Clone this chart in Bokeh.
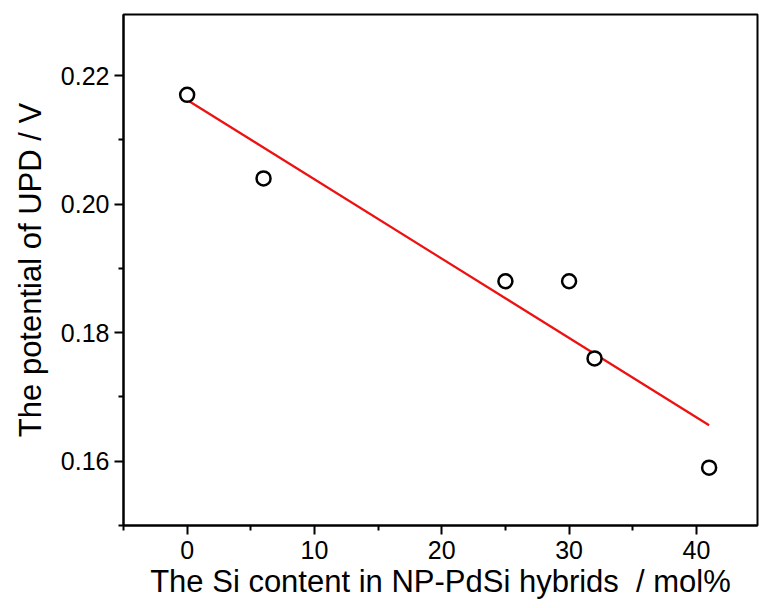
from bokeh.plotting import figure
from bokeh.models import FixedTicker, NumeralTickFormatter, Range1d
from bokeh.embed import file_html
from bokeh.resources import INLINE

si_content = [0, 6, 25, 30, 32, 41]
upd_potential = [0.217, 0.204, 0.188, 0.188, 0.176, 0.159]
fit_x = [0, 41]
fit_y = [0.2162, 0.1656]
x_ticks = [0, 10, 20, 30, 40]
x_minor = [-5, 5, 15, 25, 35, 45]
y_ticks = [0.16, 0.18, 0.20, 0.22]
y_minor = [0.15, 0.17, 0.19, 0.21, 0.23]

FONT = "Liberation Sans"

p = figure(width=759, height=608, output_backend="svg", toolbar_location=None,
           x_range=Range1d(-5, 44.8), y_range=Range1d(0.15, 0.2295),
           min_border_left=123, min_border_right=2, min_border_top=14, min_border_bottom=83)
p.xgrid.visible = False
p.ygrid.visible = False
p.outline_line_color = "black"
p.outline_line_width = 2
p.background_fill_color = "white"
p.border_fill_color = "white"

p.line(fit_x, fit_y, line_color="#ee1111", line_width=2.2)
p.scatter(si_content, upd_potential, marker="circle", size=14, fill_color="white",
          line_color="black", line_width=2.5)

p.xaxis.ticker = FixedTicker(ticks=x_ticks, minor_ticks=x_minor)
p.yaxis.ticker = FixedTicker(ticks=y_ticks, minor_ticks=y_minor)
p.yaxis.formatter = NumeralTickFormatter(format="0.00")

for ax in (p.xaxis[0], p.yaxis[0]):
    ax.axis_line_width = 2
    ax.axis_line_color = "black"
    ax.major_tick_line_width = 2
    ax.minor_tick_line_width = 2
    ax.major_tick_out = 9
    ax.major_tick_in = 0
    ax.minor_tick_out = 5
    ax.minor_tick_in = 0
    ax.major_label_text_font = FONT
    ax.major_label_text_font_size = "25px"
    ax.major_label_text_color = "black"
    ax.axis_label_text_font = FONT
    ax.axis_label_text_font_size = "31px"
    ax.axis_label_text_font_style = "normal"
    ax.axis_label_text_color = "black"

p.xaxis.axis_label = "The Si content in NP-PdSi hybrids\u00a0 / mol%"
p.yaxis.axis_label = "The potential of UPD / V"
p.xaxis.major_label_standoff = 6
p.yaxis.major_label_standoff = 5
p.xaxis.axis_label_standoff = 2
p.yaxis.axis_label_standoff = 10

open("out.html", "w").write(file_html(p, INLINE))
